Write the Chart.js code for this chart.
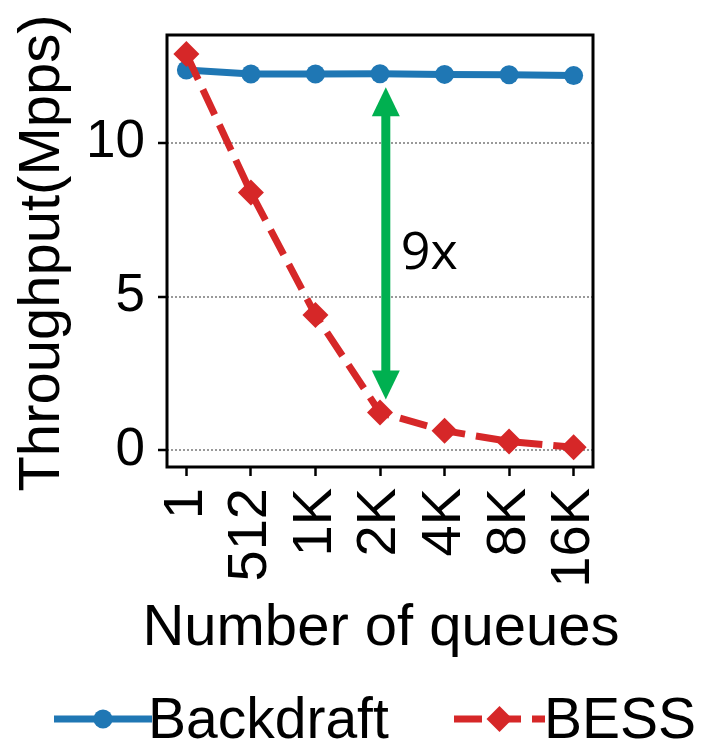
<!DOCTYPE html>
<html>
<head>
<meta charset="utf-8">
<script src="https://cdn.jsdelivr.net/npm/chart.js@4.4.0/dist/chart.umd.min.js"></script>
<style>
    html, body { margin: 0; padding: 0; background: #fff; }
</style>
</head>
<body>
<canvas id="throughputChart" width="705" height="744"></canvas>
<script>
const queueLabels = ['1', '512', '1K', '2K', '4K', '8K', '16K'];
const backdraftValues = [12.36, 12.23, 12.23, 12.24, 12.22, 12.21, 12.18];
const bessValues = [12.88, 8.38, 4.40, 1.23, 0.64, 0.29, 0.10];
const yTickValues = [0, 5, 10];

const xTitle = 'Number of queues';
const yTitle = 'Throughput(Mpps)';

// speedup arrow, drawn near the 2K column
const arrowAt = 3.09;
const arrowFrom = 1.65;
const arrowTo = 11.8;
const arrowLabel = '9x';

const FONT = 'Liberation Sans';

// full black box around the plot
const frameBox = {
    id: 'frameBox',
    beforeDatasetsDraw(chart) {
        const { ctx, chartArea: a } = chart;
        ctx.save();
        ctx.strokeStyle = '#000';
        ctx.lineWidth = 3;
        ctx.strokeRect(a.left, a.top, a.right - a.left, a.bottom - a.top);
        ctx.restore();
    }
};

// axis titles drawn by hand so Chart.js does not squeeze them to the axis length
const axisTitles = {
    id: 'axisTitles',
    afterDraw(chart) {
        const { ctx, chartArea: a } = chart;
        ctx.save();
        ctx.fillStyle = '#000';
        ctx.font = '58px "' + FONT + '"';
        ctx.textAlign = 'center';
        ctx.textBaseline = 'alphabetic';
        ctx.fillText(xTitle, (a.left + a.right) / 2 + 1, 645);
        ctx.translate(59, (a.top + a.bottom) / 2 + 2);
        ctx.rotate(-Math.PI / 2);
        ctx.fillText(yTitle, 0, 0);
        ctx.restore();
    }
};

const speedupArrow = {
    id: 'speedupArrow',
    afterDatasetsDraw(chart) {
        const { ctx, scales: { x, y } } = chart;
        const px = x.getPixelForValue(arrowAt);
        const top = y.getPixelForValue(arrowTo);
        const bottom = y.getPixelForValue(arrowFrom);
        const head = 29, half = 14;
        ctx.save();
        ctx.fillStyle = '#00b050';
        ctx.fillRect(px - 4.5, top + head - 1, 9, bottom - top - 2 * head + 2);
        ctx.beginPath();
        ctx.moveTo(px, top);
        ctx.lineTo(px + half, top + head);
        ctx.lineTo(px - half, top + head);
        ctx.closePath();
        ctx.fill();
        ctx.beginPath();
        ctx.moveTo(px, bottom);
        ctx.lineTo(px + half, bottom - head);
        ctx.lineTo(px - half, bottom - head);
        ctx.closePath();
        ctx.fill();
        ctx.fillStyle = '#000';
        ctx.font = '52px "Open Sans"';
        ctx.textAlign = 'left';
        ctx.textBaseline = 'alphabetic';
        ctx.fillText(arrowLabel, px + 15, y.getPixelForValue(5.9));
        ctx.restore();
    }
};

// legend row under the axis title: line + marker + name
const bottomLegend = {
    id: 'bottomLegend',
    afterDraw(chart) {
        const ctx = chart.ctx;
        const rowY = 719;
        const slots = [
            { x0: 54, x1: 152, textX: 148 },
            { x0: 454, x1: 545, textX: 544 }
        ];
        chart.data.datasets.forEach((ds, i) => {
            const s = slots[i];
            const mid = (s.x0 + s.x1) / 2;
            ctx.save();
            ctx.strokeStyle = ds.borderColor;
            ctx.lineWidth = ds.borderWidth;
            ctx.setLineDash(ds.borderDash || []);
            ctx.beginPath();
            ctx.moveTo(s.x0, rowY);
            ctx.lineTo(s.x1, rowY);
            ctx.stroke();
            ctx.setLineDash([]);
            ctx.fillStyle = ds.backgroundColor;
            ctx.beginPath();
            if (ds.pointStyle === 'rectRot') {
                const r = ds.pointRadius;
                ctx.moveTo(mid, rowY - r);
                ctx.lineTo(mid + r, rowY);
                ctx.lineTo(mid, rowY + r);
                ctx.lineTo(mid - r, rowY);
                ctx.closePath();
            } else {
                ctx.arc(mid, rowY, ds.pointRadius, 0, Math.PI * 2);
            }
            ctx.fill();
            ctx.fillStyle = '#000';
            ctx.font = '57px "' + FONT + '"';
            ctx.textAlign = 'left';
            ctx.textBaseline = 'alphabetic';
            ctx.fillText(ds.label, s.textX, 738);
            ctx.restore();
        });
    }
};

const ctx = document.getElementById('throughputChart').getContext('2d');

new Chart(ctx, {
    type: 'line',
    data: {
        datasets: [
            {
                label: 'Backdraft',
                data: backdraftValues.map((v, i) => ({ x: i, y: v })),
                borderColor: '#1f77b4',
                backgroundColor: '#1f77b4',
                borderWidth: 7,
                pointStyle: 'circle',
                pointRadius: 9.5,
                pointBorderWidth: 0,
                tension: 0,
                order: 2
            },
            {
                label: 'BESS',
                data: bessValues.map((v, i) => ({ x: i, y: v })),
                borderColor: '#d62728',
                backgroundColor: '#d62728',
                borderWidth: 7,
                borderDash: [28, 11],
                pointStyle: 'rectRot',
                pointRadius: 13,
                pointBorderWidth: 0,
                tension: 0,
                order: 1
            }
        ]
    },
    options: {
        responsive: false,
        animation: false,
        events: [],
        layout: {
            padding: { left: 0, top: 35, right: 112, bottom: 71 }
        },
        scales: {
            x: {
                type: 'linear',
                min: -0.3,
                max: 6.3,
                afterBuildTicks: s => { s.ticks = queueLabels.map((_, i) => ({ value: i })); },
                afterFit: s => {
                    s.height = 206;
                    s.paddingLeft = 0;
                    s.paddingRight = 0;
                    s.paddingTop = 0;
                    s.paddingBottom = 0;
                },
                grid: {
                    drawOnChartArea: false,
                    drawTicks: true,
                    tickLength: 9,
                    tickColor: '#000',
                    tickWidth: 2.5
                },
                border: { display: false },
                ticks: {
                    autoSkip: false,
                    minRotation: 90,
                    maxRotation: 90,
                    padding: 12,
                    color: '#000',
                    font: { family: FONT, size: 56 },
                    callback: v => queueLabels[v]
                },
                title: { display: false }
            },
            y: {
                min: -0.54,
                max: 13.5,
                afterBuildTicks: s => { s.ticks = yTickValues.map(v => ({ value: v })); },
                afterFit: s => {
                    s.width = 167;
                    s.paddingLeft = 0;
                    s.paddingRight = 0;
                    s.paddingTop = 0;
                    s.paddingBottom = 0;
                },
                grid: {
                    color: '#999999',
                    lineWidth: 2,
                    drawTicks: true,
                    tickLength: 9,
                    tickColor: '#000',
                    tickWidth: 2.5,
                    tickBorderDash: []
                },
                border: { display: false, dash: [2, 2] },
                ticks: {
                    padding: 13,
                    color: '#000',
                    font: { family: FONT, size: 53 }
                },
                title: { display: false }
            }
        },
        plugins: {
            legend: { display: false },
            tooltip: { enabled: false }
        }
    },
    plugins: [frameBox, speedupArrow, axisTitles, bottomLegend]
});
</script>
</body>
</html>
